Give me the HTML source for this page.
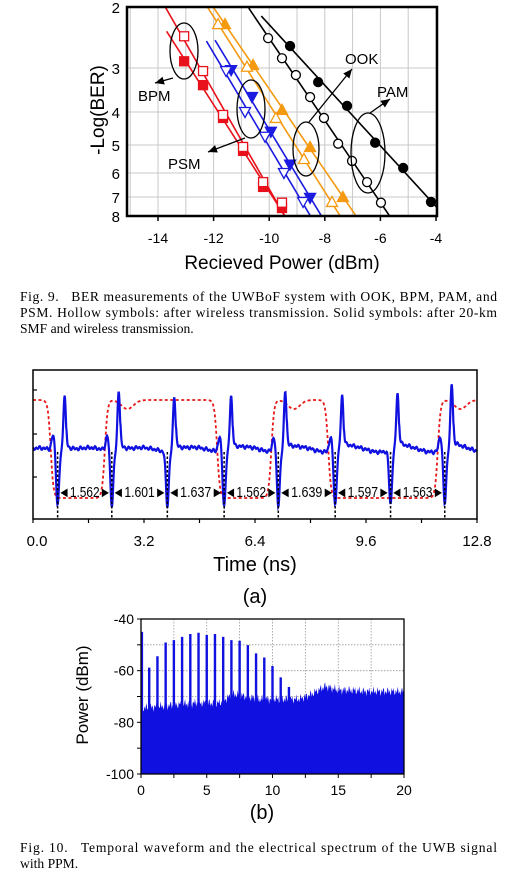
<!DOCTYPE html>
<html><head><meta charset="utf-8">
<style>
html,body{margin:0;padding:0;background:#fff;}
svg{display:block;font-family:"Liberation Sans",sans-serif;}
.cap{font-family:"Liberation Serif",serif;font-size:13.6px;fill:#000;}
</style></head>
<body>
<svg id="fig" width="516" height="880" viewBox="0 0 516 880" xmlns="http://www.w3.org/2000/svg">
  <defs>
    <clipPath id="c1"><rect x="127" y="7" width="310" height="209"/></clipPath>
    <clipPath id="c2"><rect x="33" y="370" width="444" height="149"/></clipPath>
    <clipPath id="c3"><rect x="141" y="619" width="263" height="155"/></clipPath>
  </defs>
  <g id="ber"></g>
  <g>
    <text class="cap" x="20" y="301" textLength="477" lengthAdjust="spacing">Fig. 9.&#160;&#160; BER measurements of the UWBoF system with OOK, BPM, PAM, and</text>
    <text class="cap" x="20" y="317" textLength="477" lengthAdjust="spacing">PSM. Hollow symbols: after wireless transmission. Solid symbols: after 20-km</text>
    <text class="cap" x="20" y="333">SMF and wireless transmission.</text>
  </g>
  <g id="wave"></g>
  <g id="spec"></g>
  <g>
    <text class="cap" x="20" y="852" textLength="477" lengthAdjust="spacing">Fig. 10.&#160;&#160; Temporal waveform and the electrical spectrum of the UWB signal</text>
    <text class="cap" x="20" y="868">with PPM.</text>
  </g>
</svg>
<script>
const NS="http://www.w3.org/2000/svg";
function mk(parent,tag,attrs,txt){const e=document.createElementNS(NS,tag);for(const k in attrs)e.setAttribute(k,attrs[k]);if(txt!==undefined)e.textContent=txt;parent.appendChild(e);return e;}

/* ===== Fig 9 data ===== */
const berXTicks=[-14,-12,-10,-8,-6,-4];
const berYTicks=[2,3,4,5,6,7,8];
const bpmSolidX=[-13.06,-12.38,-11.66,-10.94,-10.22,-9.54];
const bpmSolidY=[2.89,3.39,4.18,5.21,6.58,7.58];
const bpmHollowX=[-13.06,-12.38,-11.66,-10.94,-10.22,-9.54];
const bpmHollowY=[2.48,3.07,4.09,5.07,6.38,7.3];
const psmSolidX=[-11.37,-10.62,-9.94,-9.25,-8.53];
const psmSolidY=[3.05,3.66,4.6,5.7,7.05];
const psmHollowX=[-11.55,-10.87,-10.15,-9.47,-8.78];
const psmHollowY=[3.07,4.0,4.75,6.0,7.26];
const orSolidX=[-11.59,-10.58,-9.54,-8.53,-7.35];
const orSolidY=[2.28,2.95,3.95,5.07,7.0];
const orHollowX=[-11.84,-10.8,-9.76,-8.75,-7.74];
const orHollowY=[2.28,2.98,4.18,5.5,7.26];
const bkSolidX=[-9.25,-8.24,-7.2,-6.19,-5.18,-4.18];
const bkSolidY=[2.64,3.32,3.86,4.93,5.82,7.26];
const bkHollowX=[-10.04,-9.54,-9.04,-8.53,-8.03,-7.52,-7.02,-6.48,-5.98];
const bkHollowY=[2.51,2.84,3.16,3.66,4.18,4.96,5.57,6.38,7.3];

const berYpx=[7,68,112,145,173,197,216];
function bx(v){return 158+(v+14)*27.8;}
function by(v){
  if(v<=2)return berYpx[0]+(v-2)*61;
  if(v>=8)return berYpx[6]+(v-8)*19;
  const i=Math.floor(v-2);const f=v-2-i;return berYpx[i]+f*(berYpx[i+1]-berYpx[i]);
}
(function(){
  const g=document.getElementById('ber');
  const grid=mk(g,'g',{});
  
  
  for(let v=-15;v<=-4;v++){if(bx(v)>127&&bx(v)<437)mk(grid,'line',{x1:bx(v),x2:bx(v),y1:7,y2:216,stroke:'#c8c8c8','stroke-width':1});}
  berYTicks.forEach(v=>mk(grid,'line',{x1:127,x2:437,y1:by(v),y2:by(v),stroke:'#c8c8c8','stroke-width':1}));
  const plot=mk(g,'g',{'clip-path':'url(#c1)'});
  const series=[
    {x:bpmSolidX,y:bpmSolidY,c:'#e8101a',m:'sq',f:true,n:'bpm-solid'},
    {x:bpmHollowX,y:bpmHollowY,c:'#e8101a',m:'sq',f:false,n:'bpm-hollow'},
    {x:psmSolidX,y:psmSolidY,c:'#1a1ae0',m:'dt',f:true,n:'psm-solid'},
    {x:psmHollowX,y:psmHollowY,c:'#1a1ae0',m:'dt',f:false,n:'psm-hollow'},
    {x:orSolidX,y:orSolidY,c:'#f59a10',m:'ut',f:true,n:'ook-solid'},
    {x:orHollowX,y:orHollowY,c:'#f59a10',m:'ut',f:false,n:'ook-hollow'},
    {x:bkSolidX,y:bkSolidY,c:'#000',m:'ci',f:true,n:'pam-solid'},
    {x:bkHollowX,y:bkHollowY,c:'#000',m:'ci',f:false,n:'pam-hollow'}];
  series.forEach(s=>{
    const n=s.x.length;const X=s.x.map(bx),Y=s.y.map(by);
    const mx=X.reduce((a,b)=>a+b)/n,my=Y.reduce((a,b)=>a+b)/n;
    let sxy=0,syy=0;for(let i=0;i<n;i++){sxy+=(X[i]-mx)*(Y[i]-my);syy+=(Y[i]-my)**2;}
    const k=sxy/syy;
    const y0=Y[0]-30,y1=230;
    const ln=mk(plot,'line',{x1:mx+k*(y0-my),y1:y0,x2:mx+k*(y1-my),y2:y1,stroke:s.c,'stroke-width':1.6});
    
    
  });
  series.forEach(s=>{
    const sg=mk(g,'g',{});
    
    
    const fill=s.f?s.c:'#fff';
    s.x.forEach((v,i)=>{
      const X=bx(v),Y=by(s.y[i]);let e;
      if(s.m==='sq')e=mk(sg,'rect',{x:X-4.5,y:Y-4.5,width:9,height:9,fill:fill,stroke:s.c,'stroke-width':1.3});
      else if(s.m==='ci')e=mk(sg,'circle',{cx:X,cy:Y,r:4.5,fill:fill,stroke:s.c,'stroke-width':1.3});
      else if(s.m==='dt')e=mk(sg,'polygon',{points:`${X-5.5},${Y-4.5} ${X+5.5},${Y-4.5} ${X},${Y+5.5}`,fill:fill,stroke:s.c,'stroke-width':1.3});
      else e=mk(sg,'polygon',{points:`${X-5.5},${Y+4.5} ${X+5.5},${Y+4.5} ${X},${Y-5.5}`,fill:fill,stroke:s.c,'stroke-width':1.3});
      
      
    });
  });
  mk(g,'rect',{x:127,y:7,width:310,height:209,fill:'none',stroke:'#000','stroke-width':2.5});
  berXTicks.forEach(v=>{mk(g,'line',{x1:bx(v),x2:bx(v),y1:216,y2:221,stroke:'#000','stroke-width':1.5});
    const t=mk(g,'text',{x:bx(v),y:243,'text-anchor':'middle','font-size':14},String(v));
    });
  berYTicks.forEach(v=>{const t=mk(g,'text',{x:120,y:by(v)+6,'text-anchor':'end','font-size':15},String(v));
    });
  const xt=mk(g,'text',{x:282,y:269,'text-anchor':'middle','font-size':19},'Recieved Power (dBm)');
  
  const yt=mk(g,'text',{x:0,y:0,'text-anchor':'middle','font-size':19,transform:'translate(104,110) rotate(-90)'},'-Log(BER)');
  
  const ann=[
    {cx:184,cy:51,rx:14,ry:28,ax1:173,ay1:78,ax2:155,ay2:83,t:'BPM',tx:138,ty:101,n:'bpm'},
    {cx:251,cy:109,rx:14,ry:29,ax1:245,ay1:138,ax2:208,ay2:152,t:'PSM',tx:168,ty:169,n:'psm'},
    {cx:306,cy:149,rx:13,ry:27,ax1:309,ay1:122,ax2:352,ay2:69,t:'OOK',tx:345,ty:64,n:'ook'},
    {cx:368,cy:153,rx:17,ry:40,ax1:370,ay1:113,ax2:390,ay2:99,t:'PAM',tx:377,ty:97,n:'pam'}];
  ann.forEach(a=>{
    const ag=mk(g,'g',{});
    
    
    mk(ag,'ellipse',{cx:a.cx,cy:a.cy,rx:a.rx,ry:a.ry,fill:'none',stroke:'#000','stroke-width':1.3});
    mk(ag,'line',{x1:a.ax1,y1:a.ay1,x2:a.ax2,y2:a.ay2,stroke:'#000','stroke-width':1.3});
    const ang=Math.atan2(a.ay2-a.ay1,a.ax2-a.ax1),L=9,W=4;
    const bxp=a.ax2-L*Math.cos(ang),byp=a.ay2-L*Math.sin(ang);
    mk(ag,'polygon',{points:`${a.ax2},${a.ay2} ${bxp+W*Math.sin(ang)},${byp-W*Math.cos(ang)} ${bxp-W*Math.sin(ang)},${byp+W*Math.cos(ang)}`,fill:'#000'});
    mk(ag,'text',{x:a.tx,y:a.ty,'font-size':15},a.t);
  });
})();

/* ===== Fig 10(a) waveform data ===== */
const timeTicks=[0.0,3.2,6.4,9.6,12.8];
const firstPulse=0.71;
const intervals=[1.562,1.601,1.637,1.562,1.639,1.597,1.563];
const intervalLabels=['1.562','1.601','1.637','1.562','1.639','1.597','1.563'];
const redLevels=[1,0,1,1,0,1,0,0,1];
const spikeHeights=[57,62,56,56,60,55,56,65];
function tx(t){return 33+t*444/12.8;}
(function(){
  const g=document.getElementById('wave');
  const pulses=[firstPulse];intervals.forEach(d=>pulses.push(pulses[pulses.length-1]+d));
  const yBase=450;
  const plot=mk(g,'g',{'clip-path':'url(#c2)'});
  let rp='';
  for(let px=33;px<=477;px+=0.5){
    const t=(px-33)*12.8/444;
    let v=redLevels[0];
    for(let i=0;i<pulses.length;i++){const d=redLevels[i+1]-redLevels[i];if(d!==0){v+=d*(0.5+0.5*Math.tanh((t-(pulses[i]-0.2))/0.08));}}
    let y=498-(98*v);
    for(let i=0;i<pulses.length;i++){if(redLevels[i+1]>redLevels[i]){const dt=t-pulses[i];if(dt>0)y+=9*Math.exp(-((dt-0.45)**2)/0.06);}}
    rp+=(rp?'L':'M')+px.toFixed(1)+','+y.toFixed(1);
  }
  const red=mk(plot,'path',{d:rp,fill:'none',stroke:'#e81818','stroke-width':1.8,'stroke-dasharray':'3,2.5'});
  
  let bp='';
  for(let px=33;px<=477;px+=0.4){
    const t=(px-33)*12.8/444;
    let y=yBase+1.2*Math.sin(px*1.7)+0.8*Math.sin(px*0.9+1)+2*Math.sin(px*0.12);
    for(let i=0;i<pulses.length;i++){
      const dt=t-pulses[i];
      y+=54*Math.exp(-(dt*dt)/0.0035);
      y-=spikeHeights[i]*Math.exp(-((dt-0.2)**2)/0.0025);
      if(dt>0.25&&dt<1.0)y-=6*Math.exp(-(dt-0.25)/0.25);
      if(redLevels[i+1]!==redLevels[i])y-=15*Math.exp(-((dt+0.13)**2)/0.004);
    }
    bp+=(bp?'L':'M')+px.toFixed(1)+','+y.toFixed(1);
  }
  const blue=mk(plot,'path',{d:bp,fill:'none',stroke:'#1010e0','stroke-width':2.2});
  
  pulses.forEach(p=>{const l=mk(plot,'line',{x1:tx(p),x2:tx(p),y1:452,y2:519,stroke:'#000','stroke-width':1.5,'stroke-dasharray':'2.5,2'});
    });
  intervalLabels.forEach((s,i)=>{
    const x1=tx(pulses[i]),x2=tx(pulses[i+1]);
    const t=mk(g,'text',{x:(x1+x2)/2,y:497,'text-anchor':'middle','font-size':14.5,textLength:(x2-x1-1),lengthAdjust:'spacingAndGlyphs'},'\u25C4'+s+'\u25BA');
    
  });
  mk(g,'rect',{x:33,y:370,width:444,height:149,fill:'none',stroke:'#000','stroke-width':1.5});
  for(let i=0;i<=8;i++){const x=tx(i*1.6);mk(g,'line',{x1:x,x2:x,y1:519,y2:523,stroke:'#000','stroke-width':1.2});}
  [390,434,477].forEach(y=>mk(g,'line',{x1:33,x2:37,y1:y,y2:y,stroke:'#000','stroke-width':1.2}));
  timeTicks.forEach(v=>{const t=mk(g,'text',{x:tx(v)+(v===0?4:0),y:546,'text-anchor':'middle','font-size':15},v.toFixed(1));
    });
  const xt=mk(g,'text',{x:255,y:571,'text-anchor':'middle','font-size':20},'Time (ns)');
  
  const sub=mk(g,'text',{x:255,y:603,'text-anchor':'middle','font-size':20},'(a)');
  
})();

/* ===== Fig 10(b) spectrum data ===== */
const freqTicks=[0,5,10,15,20];
const powerTicks=[-40,-60,-80,-100];
const lineFreqs=[0.625,1.25,1.875,2.5,3.125,3.75,4.375,5.0,5.625,6.25,6.875,7.5,8.125,8.75,9.375,10.0,10.625,11.25];
const linePower=[-58.8,-54.4,-49.1,-48.2,-46.9,-45.8,-45.3,-46.2,-45.8,-46.9,-48.2,-48.4,-50.1,-53.3,-54.9,-58.2,-62.6,-66.3];
const floorFreqs=[0,1,2,3,4,5,6,7,8,9,10,11,12,13,14,15,16,17,18,19,20];
const floorPower=[-74.5,-74,-73.5,-73,-72.5,-72.5,-72.5,-69,-70,-71,-71,-71,-71,-69,-66,-67.5,-67.5,-68,-68,-68,-68];
function fx(f){return 141+f*263/20;}
function py(p){return 619+(-40-p)*155/60;}
(function(){
  const g=document.getElementById('spec');
  const grid=mk(g,'g',{});
  
  for(let f=2.5;f<20;f+=2.5)mk(grid,'line',{x1:fx(f),x2:fx(f),y1:619,y2:774,stroke:'#999','stroke-width':0.8,'stroke-dasharray':'1.5,1.5'});
  [-50,-60,-70].forEach(p=>mk(grid,'line',{x1:141,x2:404,y1:py(p),y2:py(p),stroke:'#999','stroke-width':0.8,'stroke-dasharray':'1.5,1.5'}));
  const plot=mk(g,'g',{'clip-path':'url(#c3)'});
  function floorAt(f){let i=Math.min(19,Math.floor(f));const a=f-i;return floorPower[i]+(floorPower[i+1]-floorPower[i])*a;}
  let d='M141,774';
  for(let px=141;px<=404;px+=0.7){const f=(px-141)*20/263;const n=1.2*Math.sin(px*3.1)+0.8*Math.sin(px*1.3);d+='L'+px.toFixed(1)+','+py(floorAt(f)+n).toFixed(1);}
  d+='L404,774Z';
  const fl=mk(plot,'path',{d:d,fill:'#1010e0'});
  
  const edge=mk(plot,'line',{x1:142,x2:142,y1:py(-45),y2:774,stroke:'#1010e0','stroke-width':2.2});
  
  lineFreqs.forEach((f,i)=>{const l=mk(plot,'line',{x1:fx(f),x2:fx(f),y1:py(linePower[i]),y2:774,stroke:'#1010e0','stroke-width':2.4});
    });
  mk(g,'rect',{x:141,y:619,width:263,height:155,fill:'none',stroke:'#000','stroke-width':1.3});
  for(let f=0;f<=20;f+=2.5)mk(g,'line',{x1:fx(f),x2:fx(f),y1:774,y2:778,stroke:'#000','stroke-width':1});
  [-40,-50,-60,-70,-80,-90,-100].forEach(p=>mk(g,'line',{x1:137,x2:141,y1:py(p),y2:py(p),stroke:'#000','stroke-width':1}));
  freqTicks.forEach(v=>{const t=mk(g,'text',{x:fx(v),y:795,'text-anchor':'middle','font-size':14},String(v));
    });
  powerTicks.forEach(v=>{const t=mk(g,'text',{x:134,y:py(v)+5,'text-anchor':'end','font-size':14},String(v));
    });
  const yt=mk(g,'text',{x:0,y:0,'text-anchor':'middle','font-size':17,transform:'translate(88,695) rotate(-90)'},'Power (dBm)');
  
  const sub=mk(g,'text',{x:262,y:819,'text-anchor':'middle','font-size':20},'(b)');
  
})();
</script>
</body></html>
